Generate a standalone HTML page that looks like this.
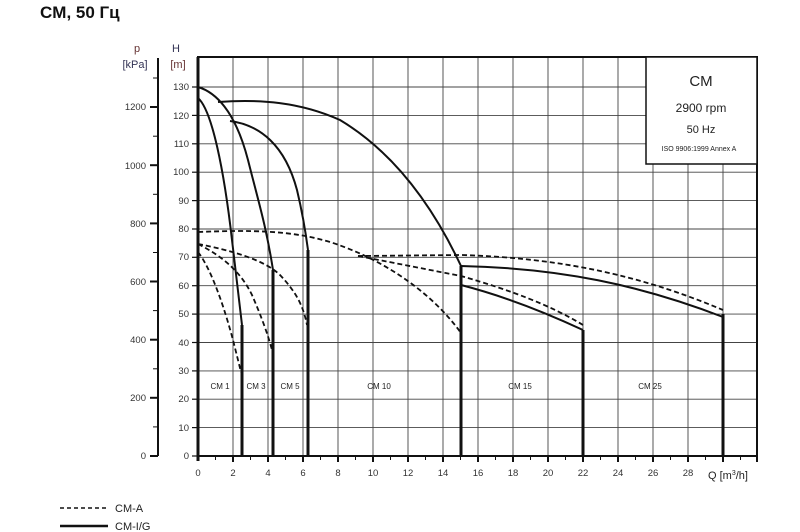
<!DOCTYPE html>
<html><head><meta charset="utf-8"><style>
body{margin:0;background:#fff;width:800px;height:532px;overflow:hidden}
svg{display:block}
text{font-family:"Liberation Sans",sans-serif}
</style></head><body>
<svg width="800" height="532" viewBox="0 0 800 532" xmlns="http://www.w3.org/2000/svg">
<text x="40" y="18" font-size="17" font-weight="bold" fill="#111">CM, 50 Гц</text>

<!-- grid -->
<g stroke="#444" stroke-width="0.9">
<line x1="233" y1="57" x2="233" y2="456"/><line x1="268" y1="57" x2="268" y2="456"/>
<line x1="303" y1="57" x2="303" y2="456"/><line x1="338" y1="57" x2="338" y2="456"/>
<line x1="373" y1="57" x2="373" y2="456"/><line x1="408" y1="57" x2="408" y2="456"/>
<line x1="443" y1="57" x2="443" y2="456"/><line x1="478" y1="57" x2="478" y2="456"/>
<line x1="513" y1="57" x2="513" y2="456"/><line x1="548" y1="57" x2="548" y2="456"/>
<line x1="583" y1="57" x2="583" y2="456"/><line x1="618" y1="57" x2="618" y2="456"/>
<line x1="653" y1="57" x2="653" y2="456"/><line x1="688" y1="57" x2="688" y2="456"/>
<line x1="723" y1="57" x2="723" y2="456"/>
<line x1="198" y1="427.6" x2="757" y2="427.6"/><line x1="198" y1="399.2" x2="757" y2="399.2"/>
<line x1="198" y1="370.9" x2="757" y2="370.9"/><line x1="198" y1="342.5" x2="757" y2="342.5"/>
<line x1="198" y1="314.1" x2="757" y2="314.1"/><line x1="198" y1="285.7" x2="757" y2="285.7"/>
<line x1="198" y1="257.3" x2="757" y2="257.3"/><line x1="198" y1="229" x2="757" y2="229"/>
<line x1="198" y1="200.6" x2="757" y2="200.6"/><line x1="198" y1="172.2" x2="757" y2="172.2"/>
<line x1="198" y1="143.8" x2="757" y2="143.8"/><line x1="198" y1="115.4" x2="757" y2="115.4"/>
<line x1="198" y1="87" x2="757" y2="87"/>
</g>
<!-- frame -->
<rect x="198" y="57" width="559" height="399" fill="none" stroke="#111" stroke-width="2"/>
<line x1="198" y1="57" x2="198" y2="461" stroke="#111" stroke-width="3"/>
<!-- legend box -->
<rect x="646" y="57" width="111" height="107" fill="#fff" stroke="#111" stroke-width="1.5"/>
<text x="701" y="86" font-size="15" text-anchor="middle" fill="#222">CM</text>
<text x="701" y="112" font-size="12" text-anchor="middle" fill="#222">2900 rpm</text>
<text x="701" y="133" font-size="11" text-anchor="middle" fill="#222">50 Hz</text>
<text x="699" y="151" font-size="7" text-anchor="middle" fill="#222">ISO 9906:1999 Annex A</text>

<!-- H axis ticks & labels -->
<g stroke="#111" stroke-width="1.2">
<line x1="192" y1="456" x2="198" y2="456"/><line x1="192" y1="427.6" x2="198" y2="427.6"/><line x1="192" y1="399.2" x2="198" y2="399.2"/><line x1="192" y1="370.9" x2="198" y2="370.9"/><line x1="192" y1="342.5" x2="198" y2="342.5"/><line x1="192" y1="314.1" x2="198" y2="314.1"/><line x1="192" y1="285.7" x2="198" y2="285.7"/><line x1="192" y1="257.3" x2="198" y2="257.3"/><line x1="192" y1="229" x2="198" y2="229"/><line x1="192" y1="200.6" x2="198" y2="200.6"/><line x1="192" y1="172.2" x2="198" y2="172.2"/><line x1="192" y1="143.8" x2="198" y2="143.8"/><line x1="192" y1="115.4" x2="198" y2="115.4"/><line x1="192" y1="87" x2="198" y2="87"/>
</g>
<g font-size="9.5" fill="#333" text-anchor="end">
<text x="189" y="459">0</text><text x="189" y="431">10</text><text x="189" y="402">20</text><text x="189" y="374">30</text><text x="189" y="346">40</text><text x="189" y="317">50</text><text x="189" y="289">60</text><text x="189" y="260">70</text><text x="189" y="232">80</text><text x="189" y="204">90</text><text x="189" y="175">100</text><text x="189" y="147">110</text><text x="189" y="119">120</text><text x="189" y="90">130</text>
</g>
<text x="176" y="52" font-size="11" fill="#335" text-anchor="middle">H</text>
<text x="178" y="68" font-size="11" fill="#633" text-anchor="middle">[m]</text>

<!-- p axis -->
<line x1="158" y1="58" x2="158" y2="456" stroke="#111" stroke-width="2"/>
<g stroke="#111" stroke-width="1">
<line x1="153" y1="426.9" x2="158" y2="426.9"/><line x1="153" y1="368.8" x2="158" y2="368.8"/><line x1="153" y1="310.6" x2="158" y2="310.6"/><line x1="153" y1="252.5" x2="158" y2="252.5"/><line x1="153" y1="194.3" x2="158" y2="194.3"/><line x1="153" y1="136.2" x2="158" y2="136.2"/><line x1="153" y1="78" x2="158" y2="78"/>
</g>
<g stroke="#111" stroke-width="2">
<line x1="150" y1="456" x2="158" y2="456"/><line x1="150" y1="397.8" x2="158" y2="397.8"/><line x1="150" y1="339.7" x2="158" y2="339.7"/><line x1="150" y1="281.5" x2="158" y2="281.5"/><line x1="150" y1="223.4" x2="158" y2="223.4"/><line x1="150" y1="165.2" x2="158" y2="165.2"/><line x1="150" y1="107" x2="158" y2="107"/>
</g>
<g font-size="9.5" fill="#333" text-anchor="end">
<text x="146" y="459">0</text><text x="146" y="401">200</text><text x="146" y="343">400</text><text x="146" y="285">600</text><text x="146" y="227">800</text><text x="146" y="169">1000</text><text x="146" y="110">1200</text>
</g>
<text x="137" y="52" font-size="11" fill="#633" text-anchor="middle">p</text>
<text x="135" y="68" font-size="11" fill="#335" text-anchor="middle">[kPa]</text>

<!-- x axis ticks -->
<g stroke="#111" stroke-width="2">
<line x1="233" y1="456" x2="233" y2="462"/><line x1="268" y1="456" x2="268" y2="462"/><line x1="303" y1="456" x2="303" y2="462"/><line x1="338" y1="456" x2="338" y2="462"/><line x1="373" y1="456" x2="373" y2="462"/><line x1="408" y1="456" x2="408" y2="462"/><line x1="443" y1="456" x2="443" y2="462"/><line x1="478" y1="456" x2="478" y2="462"/><line x1="513" y1="456" x2="513" y2="462"/><line x1="548" y1="456" x2="548" y2="462"/><line x1="583" y1="456" x2="583" y2="462"/><line x1="618" y1="456" x2="618" y2="462"/><line x1="653" y1="456" x2="653" y2="462"/><line x1="688" y1="456" x2="688" y2="462"/><line x1="723" y1="456" x2="723" y2="462"/><line x1="757" y1="456" x2="757" y2="462"/>
</g>
<g stroke="#111" stroke-width="1">
<line x1="215.5" y1="456" x2="215.5" y2="460"/><line x1="250.5" y1="456" x2="250.5" y2="460"/><line x1="285.5" y1="456" x2="285.5" y2="460"/><line x1="320.5" y1="456" x2="320.5" y2="460"/><line x1="355.5" y1="456" x2="355.5" y2="460"/><line x1="390.5" y1="456" x2="390.5" y2="460"/><line x1="425.5" y1="456" x2="425.5" y2="460"/><line x1="460.5" y1="456" x2="460.5" y2="460"/><line x1="495.5" y1="456" x2="495.5" y2="460"/><line x1="530.5" y1="456" x2="530.5" y2="460"/><line x1="565.5" y1="456" x2="565.5" y2="460"/><line x1="600.5" y1="456" x2="600.5" y2="460"/><line x1="635.5" y1="456" x2="635.5" y2="460"/><line x1="670.5" y1="456" x2="670.5" y2="460"/><line x1="705.5" y1="456" x2="705.5" y2="460"/><line x1="740.5" y1="456" x2="740.5" y2="460"/>
</g>
<g font-size="9.5" fill="#333" text-anchor="middle">
<text x="198" y="476">0</text><text x="233" y="476">2</text><text x="268" y="476">4</text><text x="303" y="476">6</text><text x="338" y="476">8</text><text x="373" y="476">10</text><text x="408" y="476">12</text><text x="443" y="476">14</text><text x="478" y="476">16</text><text x="513" y="476">18</text><text x="548" y="476">20</text><text x="583" y="476">22</text><text x="618" y="476">24</text><text x="653" y="476">26</text><text x="688" y="476">28</text>
</g>
<text x="708" y="479" font-size="11" fill="#222">Q [m<tspan font-size="7" dy="-4">3</tspan><tspan dy="4">/h]</tspan></text>

<!-- series labels -->
<g font-size="8" fill="#222" text-anchor="middle">
<text x="220" y="389">CM 1</text><text x="256" y="389">CM 3</text><text x="290" y="389">CM 5</text><text x="379" y="389">CM 10</text><text x="520" y="389">CM 15</text><text x="650" y="389">CM 25</text>
</g>

<!-- solid curves -->
<g fill="none" stroke="#111" stroke-width="2">
<path d="M198,98 C212,110 224,170 232,240 L242,325"/>
<path d="M198,87 C215,92 235,110 248,160 C258,200 266,225 273,270"/>
<path d="M230,121 C260,125 285,145 297,190 C303,215 306,235 308,250"/>
<path d="M218,102 C260,99 300,102 340,120 C390,150 430,200 461,266"/>
<path d="M461,266 C560,268 640,285 723,317"/>
<path d="M461,285 C500,295 540,310 583,330"/>
</g>
<g fill="none" stroke="#111" stroke-width="3">
<line x1="242" y1="325" x2="242" y2="456"/>
<line x1="273" y1="270" x2="273" y2="456"/>
<line x1="308" y1="250" x2="308" y2="456"/>
<line x1="461" y1="266" x2="461" y2="456"/>
<line x1="583" y1="330" x2="583" y2="456"/>
<line x1="723" y1="314" x2="723" y2="456"/>
</g>

<!-- dashed curves -->
<g fill="none" stroke="#111" stroke-width="1.8" stroke-dasharray="5,3">
<path d="M198,232 C250,230 290,230 330,242 C380,258 430,290 461,333"/>
<path d="M358,256 L461,255 C560,258 640,275 723,310"/>
<path d="M358,256 C400,264 430,270 461,276 C510,290 550,305 583,325"/>
<path d="M198,244 C230,250 265,260 280,275 C296,292 303,305 307,325"/>
<path d="M198,244 C220,255 240,270 252,295 C262,318 268,335 272,350"/>
<path d="M198,252 C212,270 225,310 233,340 L241,372"/>
</g>

<!-- legend -->
<line x1="60" y1="508" x2="108" y2="508" stroke="#111" stroke-width="1.5" stroke-dasharray="4,3"/>
<text x="115" y="512" font-size="11" fill="#222">CM-A</text>
<line x1="60" y1="526" x2="108" y2="526" stroke="#111" stroke-width="2.5"/>
<text x="115" y="530" font-size="11" fill="#222">CM-I/G</text>
</svg>
</body></html>
